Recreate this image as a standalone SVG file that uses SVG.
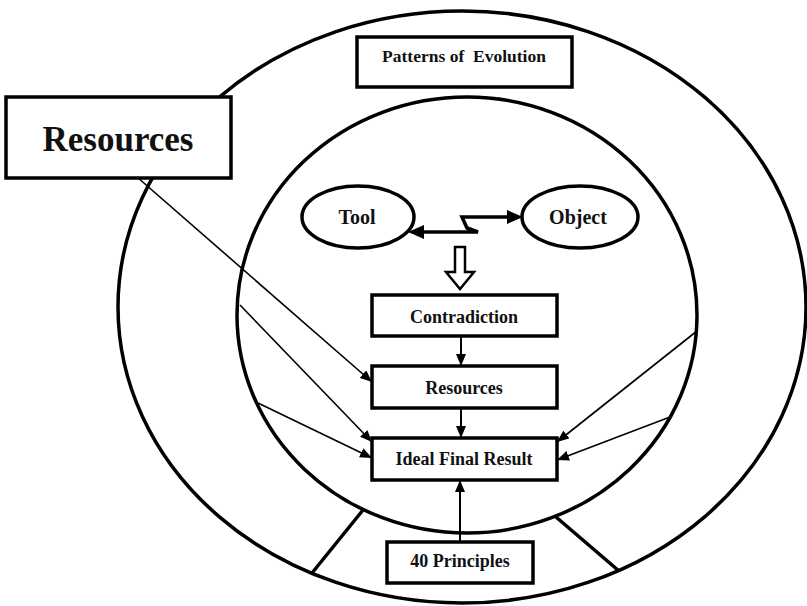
<svg xmlns="http://www.w3.org/2000/svg" width="807" height="606" viewBox="0 0 807 606">
  <style>
    .ring { fill: none; stroke: #000; stroke-width: 3.5; }
    .box { fill: #fff; stroke: #000; stroke-width: 3.5; }
    .oval { fill: #fff; stroke: #000; stroke-width: 3.5; }
    .lbl { font-family: "Liberation Serif", "Times New Roman", serif; font-weight: bold; fill: #111; text-anchor: middle; }
    .thin { fill: none; stroke: #000; stroke-width: 1.6; marker-end: url(#tip); }
    .flow { fill: none; stroke: #000; stroke-width: 2; marker-end: url(#tip); }
    .bolt { fill: none; stroke: #000; stroke-width: 3.5; stroke-linejoin: miter; }
  </style>
  <defs>
    <marker id="tip" viewBox="0 0 12 10" refX="12" refY="5" markerWidth="12" markerHeight="10" markerUnits="userSpaceOnUse" orient="auto">
      <path d="M0,0 L12,5 L0,10 Z" fill="#000"/>
    </marker>
    <marker id="bigtip" viewBox="0 0 16 14" refX="16" refY="7" markerWidth="16" markerHeight="14" markerUnits="userSpaceOnUse" orient="auto">
      <path d="M0,0 L16,7 L0,14 Z" fill="#000"/>
    </marker>
  </defs>

  <rect width="807" height="606" fill="#fff"/>

  <!-- outer and inner rings -->
  <g id="rings">
    <ellipse class="ring" cx="462" cy="307" rx="344" ry="296"/>
    <ellipse class="ring" cx="467" cy="315" rx="230" ry="218"/>
    <line x1="312" y1="573" x2="363" y2="510" stroke="#000" stroke-width="3.5"/>
    <line x1="556" y1="517" x2="619" y2="571" stroke="#000" stroke-width="3.5"/>
  </g>

  <g id="patterns">
    <rect class="box" x="357" y="37" width="215" height="50"/>
    <text class="lbl" x="464" y="62" font-size="17.5" xml:space="preserve">Patterns of  Evolution</text>
  </g>

  <g id="resources-outer">
    <rect class="box" x="6" y="97" width="225" height="81"/>
    <text class="lbl" x="118" y="151" font-size="35">Resources</text>
  </g>

  <g id="tool">
    <ellipse class="oval" cx="358" cy="217" rx="56" ry="31"/>
    <text class="lbl" x="357" y="224" font-size="20">Tool</text>
  </g>

  <g id="object">
    <ellipse class="oval" cx="580" cy="217" rx="58" ry="31"/>
    <text class="lbl" x="578" y="224" font-size="20">Object</text>
  </g>

  <g id="contradiction">
    <rect class="box" x="372" y="295" width="185" height="41"/>
    <text class="lbl" x="464" y="323" font-size="18">Contradiction</text>
  </g>

  <g id="resources">
    <rect class="box" x="372" y="366" width="185" height="42"/>
    <text class="lbl" x="464" y="394" font-size="18">Resources</text>
  </g>

  <g id="ideal-final-result">
    <rect class="box" x="372" y="438" width="185" height="42"/>
    <text class="lbl" x="464" y="465" font-size="18">Ideal Final Result</text>
  </g>

  <g id="principles">
    <rect class="box" x="387" y="542" width="146" height="41"/>
    <text class="lbl" x="460" y="567" font-size="18">40 Principles</text>
  </g>

  <g id="connectors">
    <!-- conflict zigzag between tool and object -->
    <path class="bolt" d="M421,232 L478,232 L467,228 L462,217 L508,217"/>
    <path d="M408,232 L424,225 L424,239 Z" fill="#000"/>
    <path d="M523,217 L507,210 L507,224 Z" fill="#000"/>
    <!-- hollow arrow down to contradiction -->
    <path d="M455,247 L465,247 L465,272 L474,272 L460,289 L446,272 L455,272 Z" fill="#fff" stroke="#000" stroke-width="2.5" stroke-linejoin="miter"/>
    <!-- vertical flow -->
    <line class="flow" x1="461" y1="336" x2="461" y2="366"/>
    <line class="flow" x1="461" y1="408" x2="461" y2="438"/>
    <line class="flow" x1="460" y1="542" x2="460" y2="480"/>
    <!-- resources feeding in -->
    <line class="thin" x1="137" y1="177" x2="372" y2="382"/>
    <line class="thin" x1="240" y1="305" x2="372" y2="442"/>
    <line class="thin" x1="258" y1="403" x2="372" y2="458"/>
    <line class="thin" x1="697" y1="331" x2="557" y2="442"/>
    <line class="thin" x1="670" y1="417" x2="557" y2="460"/>
  </g>
</svg>
